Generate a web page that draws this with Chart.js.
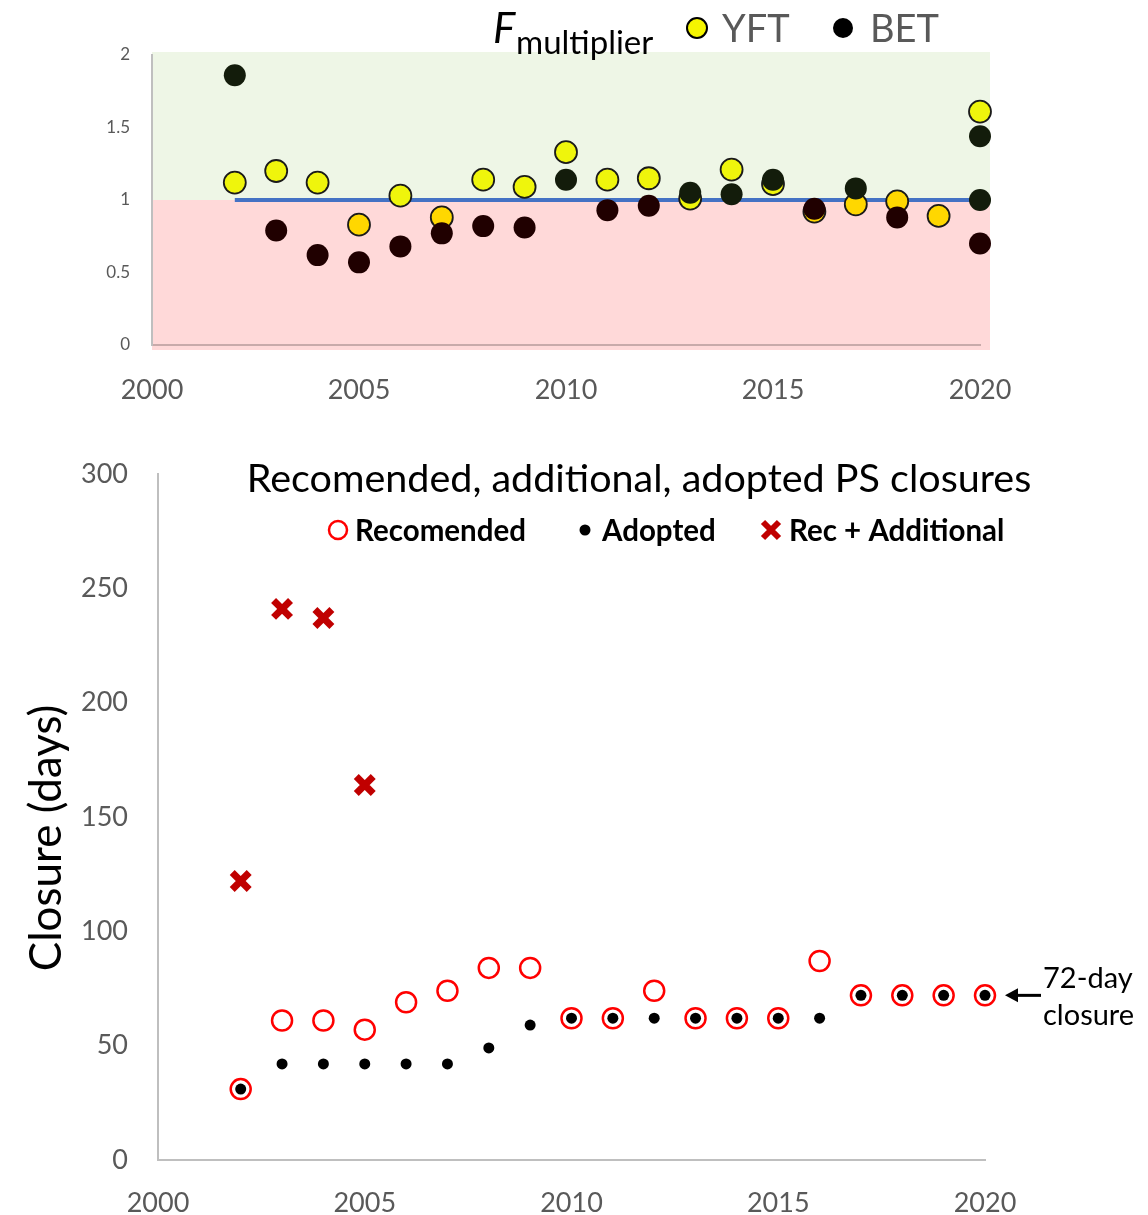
<!DOCTYPE html>
<html lang="en">
<head>
<title>F multiplier and PS closures</title>
<script src="https://cdn.jsdelivr.net/npm/chart.js"></script>
<style>
  body { margin: 0; background: #fff; }
  canvas { display: block; }
</style>
</head>
<body>
<canvas id="fChart" width="1148" height="420"></canvas>
<canvas id="closureChart" width="1148" height="795"></canvas>
<script>
// top panel: F multiplier
const fYears = [2002, 2003, 2004, 2005, 2006, 2007, 2008, 2009, 2010, 2011, 2012, 2013, 2014, 2015, 2016, 2017, 2018, 2019, 2020];
const yftValues = [1.12, 1.20, 1.12, 0.83, 1.03, 0.88, 1.14, 1.09, 1.33, 1.14, 1.15, 1.01, 1.21, 1.11, 0.92, 0.97, 0.99, 0.89, 1.61];
const betYears = [2002, 2003, 2004, 2005, 2006, 2007, 2008, 2009, 2010, 2011, 2012, 2013, 2014, 2015, 2016, 2017, 2018, 2020, 2020, 2020];
const betValues = [1.86, 0.79, 0.62, 0.57, 0.68, 0.77, 0.82, 0.81, 1.14, 0.93, 0.96, 1.05, 1.04, 1.14, 0.94, 1.08, 0.88, 1.44, 1.00, 0.70];
const refYears = [2002, 2020];
const refValues = [1, 1];
const fTicks = [0, 0.5, 1, 1.5, 2];

// bottom panel: closures (days)
const closureYears = [2002, 2003, 2004, 2005, 2006, 2007, 2008, 2009, 2010, 2011, 2012, 2013, 2014, 2015, 2016, 2017, 2018, 2019, 2020];
const recommended = [31, 61, 61, 57, 69, 74, 84, 84, 62, 62, 74, 62, 62, 62, 87, 72, 72, 72, 72];
const adopted = [31, 42, 42, 42, 42, 42, 49, 59, 62, 62, 62, 62, 62, 62, 62, 72, 72, 72, 72];
const recAddYears = [2002, 2003, 2004, 2005];
const recAdd = [122, 241, 237, 164];
const yearTicks = [2000, 2005, 2010, 2015, 2020];
const closureTicks = [0, 50, 100, 150, 200, 250, 300];

const FONT = 'Lato, "Open Sans", sans-serif';
const GREY = '#595959';

function pts(xs, ys) {
    return xs.map((x, i) => ({ x: x, y: ys[i] }));
}

// green/pink zones behind the F plot
const zonePlugin = {
    id: 'zones',
    beforeDraw(chart) {
        const c = chart.ctx, a = chart.chartArea;
        const y1 = chart.scales.y.getPixelForValue(1);
        c.save();
        c.fillStyle = '#eef6e6';
        c.fillRect(a.left, a.top - 3, a.right + 10 - a.left, y1 - a.top + 3);
        c.fillStyle = '#ffd9d9';
        c.fillRect(a.left, y1, a.right + 10 - a.left, a.bottom + 5 - y1);
        c.restore();
    },
    afterDraw(chart) {
        const c = chart.ctx;
        c.save();
        c.fillStyle = '#000';
        c.font = 'italic 42px ' + FONT;
        c.textBaseline = 'alphabetic';
        c.fillText('F', 493, 43);
        c.font = '33px ' + FONT;
        c.fillText('multiplier', 516, 54);
        // YFT marker
        c.beginPath();
        c.arc(697, 28, 10, 0, Math.PI * 2);
        c.fillStyle = '#f5f500';
        c.fill();
        c.lineWidth = 2;
        c.strokeStyle = '#000';
        c.stroke();
        c.fillStyle = GREY;
        c.font = '38px ' + FONT;
        c.fillText('YFT', 722, 42);
        c.beginPath();
        c.arc(843, 28, 10, 0, Math.PI * 2);
        c.fillStyle = '#000';
        c.fill();
        c.fillStyle = GREY;
        c.fillText('BET', 870, 42);
        c.restore();
    }
};

new Chart(document.getElementById('fChart'), {
    type: 'scatter',
    data: {
        datasets: [
            {
                label: 'BET',
                data: pts(betYears, betValues),
                pointRadius: 11,
                pointBorderWidth: 0,
                pointBackgroundColor: ctx => (ctx.raw && ctx.raw.y >= 1) ? '#131c0b' : '#200000',
                clip: false,
                order: 0
            },
            {
                label: 'YFT',
                data: pts(fYears, yftValues),
                pointRadius: 11,
                pointBorderWidth: 1.8,
                pointBorderColor: '#1a1a1a',
                pointBackgroundColor: ctx => (ctx.raw && ctx.raw.y >= 1) ? '#eff50c' : '#ffd700',
                clip: false,
                order: 1
            },
            {
                label: 'ref',
                type: 'line',
                data: pts(refYears, refValues),
                borderColor: '#4472c4',
                borderWidth: 4,
                pointRadius: 0,
                clip: false,
                order: 2
            }
        ]
    },
    options: {
        responsive: false,
        animation: false,
        layout: { padding: { top: 55, right: 168, left: 0, bottom: 0 } },
        plugins: { legend: { display: false }, tooltip: { enabled: false } },
        scales: {
            x: {
                type: 'linear', min: 2000, max: 2020,
                afterBuildTicks: s => { s.ticks = yearTicks.map(v => ({ value: v })); },
                afterFit: s => { s.height = 75; },
                grid: { display: false, drawTicks: false },
                border: { display: true, color: '#c8aaaa', width: 2 },
                ticks: { color: GREY, font: { family: FONT, size: 27 }, padding: 29, callback: v => String(v) }
            },
            y: {
                min: 0, max: 2,
                afterBuildTicks: s => { s.ticks = fTicks.map(v => ({ value: v })); },
                afterFit: s => { s.width = 152; },
                grid: { display: false, drawTicks: false },
                border: { display: true, color: '#bfbfbf', width: 2 },
                ticks: { color: GREY, font: { family: FONT, size: 17 }, padding: 22, callback: v => String(v) }
            }
        }
    },
    plugins: [zonePlugin]
});

// title, legend, axis title and the 72-day note for the closure plot
const closureDeco = {
    id: 'closureDeco',
    afterDraw(chart) {
        const c = chart.ctx;
        const xs = chart.scales.x, ys = chart.scales.y;
        c.save();
        c.fillStyle = '#000';
        c.textBaseline = 'middle';
        c.textAlign = 'center';
        c.font = '39.5px ' + FONT;
        c.fillText('Recomended, additional, adopted PS closures', 639, 59);

        // y axis title
        c.save();
        c.translate(47, 418);
        c.rotate(-Math.PI / 2);
        c.font = '44px ' + FONT;
        c.fillText('Closure (days)', 0, 0);
        c.restore();

        c.textAlign = 'left';
        c.font = 'bold 29.5px ' + FONT;
        // Recomended
        c.beginPath();
        c.arc(338, 110, 9, 0, Math.PI * 2);
        c.fillStyle = '#fff';
        c.fill();
        c.lineWidth = 2.5;
        c.strokeStyle = '#ff0000';
        c.stroke();
        c.fillStyle = '#000';
        c.fillText('Recomended', 355, 111);
        // Adopted
        c.beginPath();
        c.arc(585, 110, 5.5, 0, Math.PI * 2);
        c.fill();
        c.fillText('Adopted', 602, 111);
        // Rec + Additional
        c.strokeStyle = '#c00000';
        c.lineWidth = 6;
        c.beginPath();
        c.moveTo(763, 102); c.lineTo(779, 118);
        c.moveTo(779, 102); c.lineTo(763, 118);
        c.stroke();
        c.fillText('Rec + Additional', 789, 111);

        // 72-day note
        const px = xs.getPixelForValue(2020), py = ys.getPixelForValue(72);
        c.strokeStyle = '#000';
        c.fillStyle = '#000';
        c.lineWidth = 3;
        c.beginPath();
        c.moveTo(px + 56, py);
        c.lineTo(px + 28, py);
        c.stroke();
        c.beginPath();
        c.moveTo(px + 20, py);
        c.lineTo(px + 33, py - 7);
        c.lineTo(px + 33, py + 7);
        c.closePath();
        c.fill();
        c.font = '29px ' + FONT;
        c.fillText('72-day', px + 58, py - 17);
        c.fillText('closure', px + 58, py + 20);
        c.restore();
    }
};

new Chart(document.getElementById('closureChart'), {
    type: 'scatter',
    data: {
        datasets: [
            {
                label: 'Adopted',
                data: pts(closureYears, adopted),
                pointRadius: 5.5,
                pointBorderWidth: 0,
                pointBackgroundColor: '#000',
                clip: false,
                order: 0
            },
            {
                label: 'Recomended',
                data: pts(closureYears, recommended),
                pointRadius: 10,
                pointBorderWidth: 2.5,
                pointBorderColor: '#ff0000',
                pointBackgroundColor: '#fff',
                clip: false,
                order: 1
            },
            {
                label: 'Rec + Additional',
                data: pts(recAddYears, recAdd),
                pointStyle: 'crossRot',
                pointRadius: 12,
                pointBorderWidth: 7,
                pointBorderColor: '#c00000',
                clip: false,
                order: 2
            }
        ]
    },
    options: {
        responsive: false,
        animation: false,
        layout: { padding: { top: 54, right: 163, left: 0, bottom: 0 } },
        plugins: { legend: { display: false }, tooltip: { enabled: false } },
        scales: {
            x: {
                type: 'linear', min: 2000, max: 2020,
                afterBuildTicks: s => { s.ticks = yearTicks.map(v => ({ value: v })); },
                afterFit: s => { s.height = 55; },
                grid: { display: false, drawTicks: false },
                border: { display: true, color: '#bfbfbf', width: 2 },
                ticks: { color: GREY, font: { family: FONT, size: 27 }, padding: 27, callback: v => String(v) }
            },
            y: {
                min: 0, max: 300,
                afterBuildTicks: s => { s.ticks = closureTicks.map(v => ({ value: v })); },
                afterFit: s => { s.width = 158; },
                grid: { display: false, drawTicks: false },
                border: { display: true, color: '#bfbfbf', width: 2 },
                ticks: { color: GREY, font: { family: FONT, size: 27 }, padding: 30, callback: v => String(v) }
            }
        }
    },
    plugins: [closureDeco]
});
</script>
</body>
</html>
